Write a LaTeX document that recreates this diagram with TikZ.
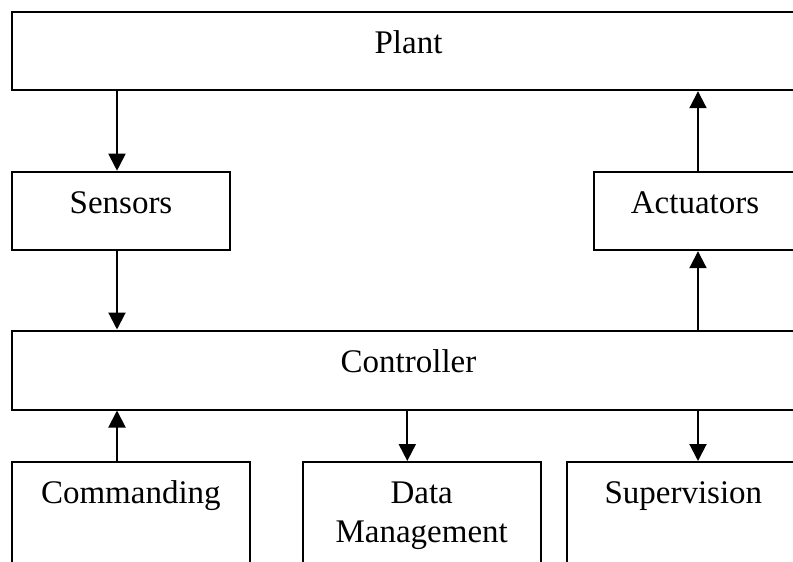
\documentclass[tikz,border=0pt]{standalone}
\usepackage{fontspec}
\setmainfont{Liberation Serif}
\usetikzlibrary{arrows.meta}
\begin{document}
\begin{tikzpicture}[x=1pt,y=-1pt,
  blk/.style={draw=black, line width=2pt, inner sep=0pt, rectangle,
    anchor=north west, align=center, text height=41.5pt,
    font=\fontsize{33}{38.5}\selectfont},
  arr/.style={line width=2pt, -{Triangle[length=17pt,width=17pt]}}]
  \useasboundingbox (0,0) rectangle (793,562);
  \clip (0,0) rectangle (793,562);
  \fill[white] (0,0) rectangle (793,562);

  % blocks: top-left corner, width, height; text sits near the top edge
  \node[blk, minimum width=793pt, minimum height=78.5pt, text depth=37pt] (plant) at (11,10.7) {Plant};
  \node[blk, minimum width=218pt, minimum height=78.5pt, text depth=37pt] (sensors) at (11,170.7) {Sensors};
  \node[blk, minimum width=202pt, minimum height=78.5pt, text depth=37pt] (actuators) at (593,170.7) {Actuators};
  \node[blk, minimum width=793pt, minimum height=79pt, text depth=37.5pt] (controller) at (11,329.5) {Controller};
  \node[blk, minimum width=237.7pt, minimum height=115pt, text depth=73.5pt] (commanding) at (11,461) {Commanding};
  \node[blk, minimum width=238pt, minimum height=115pt, text height=80pt, text depth=35pt] (datamgmt) at (301.7,461) {Data\\Management};
  \node[blk, minimum width=233.3pt, minimum height=115pt, text depth=73.5pt] (supervision) at (565.7,461) {Supervision};

  % x positions of the vertical connectors
  \coordinate (xl) at (117,0);
  \coordinate (xm) at (407.3,0);
  \coordinate (xr) at (698,0);

  \draw[arr] (plant.south -| xl) -- (sensors.north -| xl);
  \draw[arr] (sensors.south -| xl) -- (controller.north -| xl);
  \draw[arr] (commanding.north -| xl) -- (controller.south -| xl);
  \draw[arr] (controller.south -| xm) -- (datamgmt.north -| xm);
  \draw[arr] (controller.south -| xr) -- (supervision.north -| xr);
  \draw[arr] (controller.north -| xr) -- (actuators.south -| xr);
  \draw[arr] (actuators.north -| xr) -- (plant.south -| xr);
\end{tikzpicture}
\end{document}
